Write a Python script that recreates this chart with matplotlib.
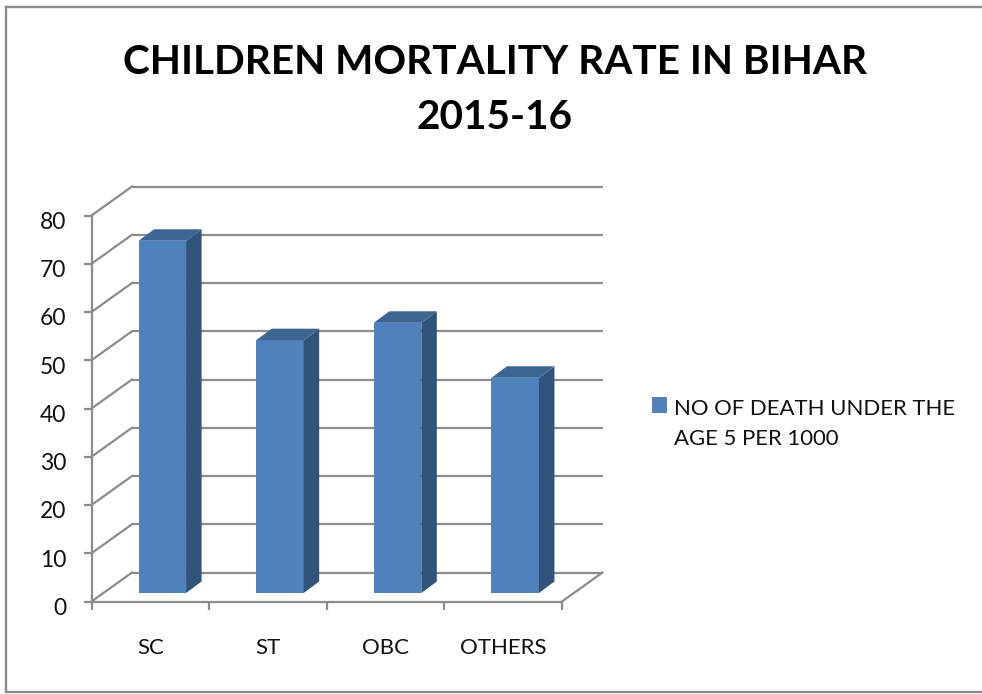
import matplotlib
matplotlib.use("Agg")
import matplotlib.pyplot as plt
from matplotlib.lines import Line2D
from matplotlib.patches import Patch, Polygon
from matplotlib.transforms import Affine2D, ScaledTranslation

plt.rcParams['font.family'] = ['Lato', 'DejaVu Sans']

categories = ["SC", "ST", "OBC", "OTHERS"]
deaths = [73.0, 52.4, 56.0, 44.6]
y_ticks = [0, 10, 20, 30, 40, 50, 60, 70, 80]
series_name = "NO OF DEATH UNDER THE\nAGE 5 PER 1000"
title = "CHILDREN MORTALITY RATE IN BIHAR\n2015-16"

W, H = 982, 694
GRAY = "#8c8c8c"
fig = plt.figure(figsize=(W / 100, H / 100), dpi=100, facecolor="white")


def fx(px):
    return px / W


def fy(py):
    return 1 - py / H


# outer chart frame (runs off the right edge)
for xs, ys in [((5.5, 5.5), (7, 692)), ((5.5, 982), (7, 7)), ((5.5, 982), (692, 692))]:
    fig.add_artist(Line2D([fx(x) for x in xs], [fy(y) for y in ys], color=GRAY, lw=1.7,
                          transform=fig.transFigure))

L, R, T, B = 91.5, 562, 215.5, 601.5
ax = fig.add_axes([fx(L), fy(B), (R - L) / W, (B - T) / H])
ax.patch.set_alpha(0)
ax.set_xlim(-0.5, len(categories) - 0.5)
ax.set_ylim(0, 80)
for s in ("top", "right"):
    ax.spines[s].set_visible(False)
for s in ("left", "bottom"):
    ax.spines[s].set_color(GRAY)
    ax.spines[s].set_linewidth(1.6)
    ax.spines[s].set_zorder(1)

ux = (R - L) / len(categories)
uy = (B - T) / 80

# back wall and floor
back = ax.transData + Affine2D().translate(40.5, 29)
xmin, xmax = ax.get_xlim()
for v in y_ticks:
    ax.plot([xmin, xmax], [v, v], color=GRAY, lw=1.6, transform=back, clip_on=False,
            solid_capstyle="butt", zorder=1)
    ax.plot([xmin, xmin + 40.5 / ux], [v, v + 29 / uy], color=GRAY, lw=1.6, clip_on=False, zorder=1)
ax.plot([xmax, xmax + 40.5 / ux], [0, 29 / uy], color=GRAY, lw=1.6, clip_on=False, zorder=1)

# 3-D bars
front = ax.transData + Affine2D().translate(12, 8.5)
bw = 47.5 / ux
dx, dy = 15.5 / ux, 11.5 / uy
x_pos = list(range(len(categories)))
ax.bar(x_pos, deaths, width=bw, color="#4f81bd", transform=front, clip_on=False, zorder=3)
for x, v in zip(x_pos, deaths):
    r = x + bw / 2
    l = x - bw / 2
    ax.add_patch(Polygon([(r, 0), (r + dx, dy), (r + dx, v + dy), (r, v)], closed=True,
                         fc="#31537c", ec="none", transform=front, clip_on=False, zorder=3))
    ax.add_patch(Polygon([(l, v), (r, v), (r + dx, v + dy), (l + dx, v + dy)], closed=True,
                         fc="#3d6594", ec="none", transform=front, clip_on=False, zorder=3))

# ticks and labels
ax.set_yticks(y_ticks)
ax.set_xticks([i - 0.5 for i in range(len(categories) + 1)])
ax.set_xticklabels([])
ax.set_xticks(x_pos, minor=True)
ax.set_xticklabels(categories, minor=True)
ax.tick_params(axis="both", which="major", color=GRAY, width=1.6, length=6, labelsize=16.5,
               labelcolor="#111111")
ax.tick_params(axis="y", pad=12)
ax.tick_params(axis="x", which="minor", length=0, pad=26, labelsize=16, labelcolor="#111111")
shift_down = ScaledTranslation(0, -3.5 / 72, fig.dpi_scale_trans)
for lab in ax.get_yticklabels():
    lab.set_transform(lab.get_transform() + shift_down)

fig.text(fx(495), fy(90), title, ha="center", va="center", fontsize=29.2, fontweight="bold",
         color="#000000", linespacing=1.6)

leg = fig.legend(handles=[Patch(fc="#4f81bd", ec="none", label=series_name)],
                 loc="upper left", bbox_to_anchor=(fx(632), fy(379)), frameon=False,
                 fontsize=15.9, handlelength=0.68, handleheight=0.68, handletextpad=0.33,
                 labelcolor="#111111", labelspacing=0)
leg.get_texts()[0].set_linespacing(1.66)
h = leg.legend_handles[0]
h.set_y(h.get_y() + 14)

fig.savefig("out.png", dpi=100)
